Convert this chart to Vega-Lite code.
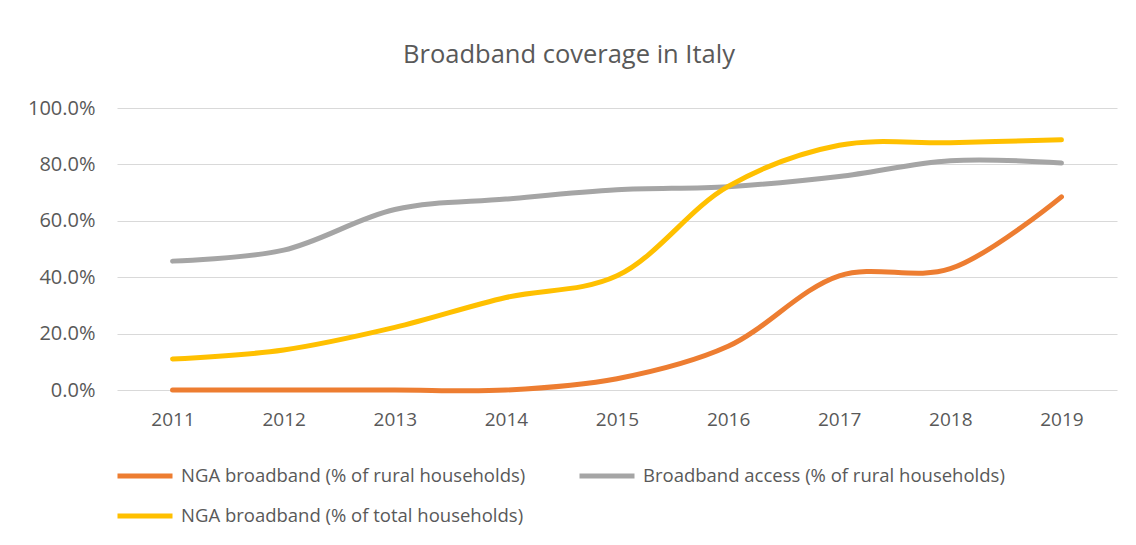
{
  "$schema": "https://vega.github.io/schema/vega-lite/v6.json",
  "width": 1000,
  "height": 282,
  "autosize": {"type": "none"},
  "padding": {"left": 117, "top": 108, "right": 19, "bottom": 155},
  "background": "white",
  "title": {
    "text": "Broadband coverage in Italy",
    "font": "Open Sans",
    "fontSize": 25.5,
    "fontWeight": "normal",
    "color": "#595959",
    "anchor": "middle",
    "dx": -48,
    "offset": 30
  },
  "data": {
    "values": [
      {"year": "2011", "series": "NGA broadband (% of rural households)", "value": 0},
      {"year": "2012", "series": "NGA broadband (% of rural households)", "value": 0},
      {"year": "2013", "series": "NGA broadband (% of rural households)", "value": 0},
      {"year": "2014", "series": "NGA broadband (% of rural households)", "value": 0},
      {"year": "2015", "series": "NGA broadband (% of rural households)", "value": 0.04},
      {"year": "2016", "series": "NGA broadband (% of rural households)", "value": 0.155},
      {"year": "2017", "series": "NGA broadband (% of rural households)", "value": 0.405},
      {"year": "2018", "series": "NGA broadband (% of rural households)", "value": 0.43},
      {"year": "2019", "series": "NGA broadband (% of rural households)", "value": 0.685},
      {"year": "2011", "series": "Broadband access (% of rural households)", "value": 0.457},
      {"year": "2012", "series": "Broadband access (% of rural households)", "value": 0.496},
      {"year": "2013", "series": "Broadband access (% of rural households)", "value": 0.64},
      {"year": "2014", "series": "Broadband access (% of rural households)", "value": 0.677},
      {"year": "2015", "series": "Broadband access (% of rural households)", "value": 0.71},
      {"year": "2016", "series": "Broadband access (% of rural households)", "value": 0.721},
      {"year": "2017", "series": "Broadband access (% of rural households)", "value": 0.757},
      {"year": "2018", "series": "Broadband access (% of rural households)", "value": 0.813},
      {"year": "2019", "series": "Broadband access (% of rural households)", "value": 0.805},
      {"year": "2011", "series": "NGA broadband (% of total households)", "value": 0.11},
      {"year": "2012", "series": "NGA broadband (% of total households)", "value": 0.142},
      {"year": "2013", "series": "NGA broadband (% of total households)", "value": 0.222},
      {"year": "2014", "series": "NGA broadband (% of total households)", "value": 0.328},
      {"year": "2015", "series": "NGA broadband (% of total households)", "value": 0.405},
      {"year": "2016", "series": "NGA broadband (% of total households)", "value": 0.722},
      {"year": "2017", "series": "NGA broadband (% of total households)", "value": 0.868},
      {"year": "2018", "series": "NGA broadband (% of total households)", "value": 0.877},
      {"year": "2019", "series": "NGA broadband (% of total households)", "value": 0.887}
    ]
  },
  "mark": {"type": "line", "interpolate": "catmull-rom", "strokeWidth": 5, "strokeCap": "round"},
  "encoding": {
    "x": {
      "field": "year",
      "type": "ordinal",
      "scale": {"type": "point", "padding": 0.5},
      "axis": {
        "title": null,
        "labelAngle": 0,
        "labelFont": "Open Sans",
        "labelFontSize": 19,
        "labelColor": "#595959",
        "labelPadding": 20,
        "domain": false,
        "ticks": false,
        "grid": false
      }
    },
    "y": {
      "field": "value",
      "type": "quantitative",
      "scale": {"domain": [0, 1]},
      "axis": {
        "title": null,
        "format": ".1%",
        "values": [0, 0.2, 0.4, 0.6, 0.8, 1],
        "labelFont": "Open Sans",
        "labelFontSize": 20,
        "labelColor": "#595959",
        "labelPadding": 22,
        "domain": false,
        "ticks": false,
        "grid": true,
        "gridColor": "#d9d9d9",
        "gridWidth": 1.2
      }
    },
    "color": {
      "field": "series",
      "type": "nominal",
      "scale": {
        "domain": ["NGA broadband (% of rural households)", "NGA broadband (% of total households)", "Broadband access (% of rural households)"],
        "range": ["#ED7D31", "#FFC000", "#A5A5A5"]
      },
      "legend": {
        "title": null,
        "orient": "none",
        "legendX": -2,
        "legendY": 338,
        "columns": 2,
        "columnPadding": 43,
        "rowPadding": -12,
        "symbolType": "stroke",
        "symbolSize": 3025,
        "symbolStrokeWidth": 5,
        "labelFont": "Open Sans",
        "labelFontSize": 18.5,
        "labelColor": "#595959",
        "labelOffset": 6,
        "labelLimit": 600
      }
    }
  },
  "config": {"view": {"stroke": null}}
}
